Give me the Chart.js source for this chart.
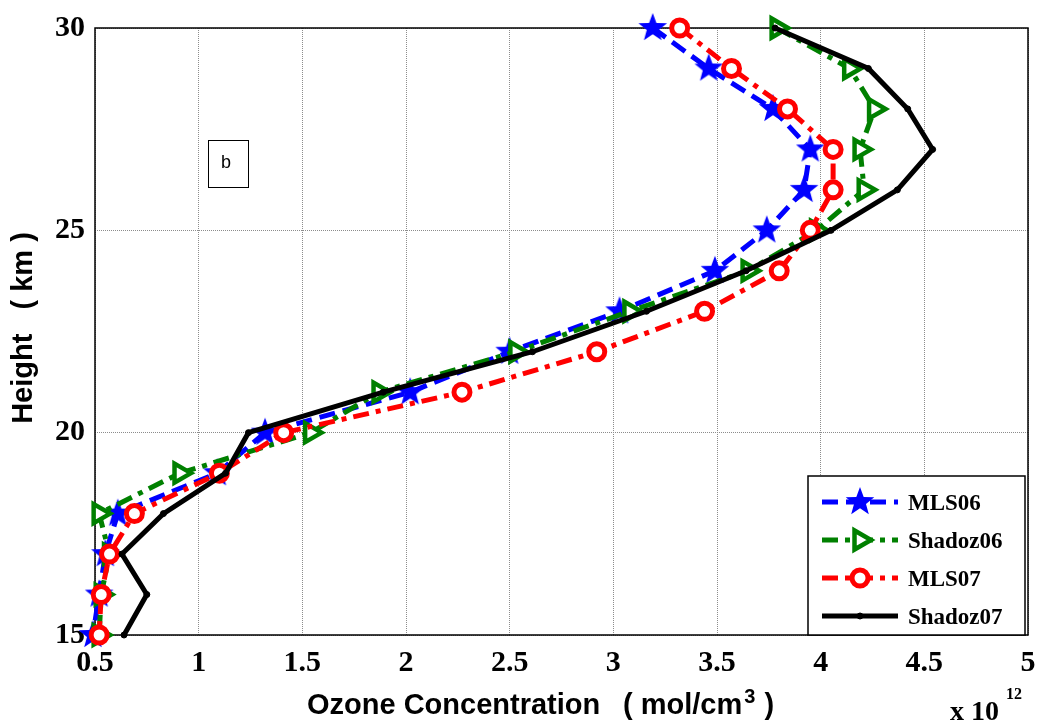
<!DOCTYPE html>
<html lang="en">
<head>
<meta charset="UTF-8">
<title>Ozone Concentration Profiles</title>
<script src="https://cdn.jsdelivr.net/npm/chart.js"></script>
<style>
  body { margin: 0; background: #fff; overflow: hidden; }
  canvas { display: block; }
</style>
</head>
<body>
<canvas id="chart" width="1040" height="727"></canvas>
<script>
// heights (km) and ozone concentration (x 10^12 mol/cm3)
const heights  = [30, 29, 28, 27, 26, 25, 24, 23, 22, 21, 20, 19, 18, 17, 16, 15];
const mls06    = [3.19, 3.46, 3.77, 3.95, 3.92, 3.74, 3.49, 3.03, 2.50, 2.02, 1.32, 1.09, 0.61, 0.55, 0.52, 0.49];
const shadoz06 = [3.79, 4.14, 4.26, 4.19, 4.21, 3.98, 3.65, 3.08, 2.53, 1.87, 1.54, 0.91, 0.52, 0.57, 0.53, 0.52];
const mls07    = [3.32, 3.57, 3.84, 4.06, 4.06, 3.95, 3.80, 3.44, 2.92, 2.27, 1.41, 1.10, 0.69, 0.57, 0.53, 0.52];
const shadoz07 = [3.78, 4.23, 4.42, 4.54, 4.37, 4.05, 3.64, 3.16, 2.61, 1.89, 1.24, 1.13, 0.83, 0.63, 0.75, 0.64];
const xTicks = [0.5, 1, 1.5, 2, 2.5, 3, 3.5, 4, 4.5, 5];
const xTickLabels = ['0.5', '1', '1.5', '2', '2.5', '3', '3.5', '4', '4.5', '5'];
const yTicks = [15, 20, 25, 30];
const yTickLabels = ['15', '20', '25', '30'];

function pts(xs) {
    return xs.map((v, i) => ({ x: v, y: heights[i] }));
}

// filled five point star for the MLS06 markers
function makeStar(r, color) {
    const c = document.createElement('canvas');
    c.width = c.height = r * 2 + 2;
    const g = c.getContext('2d');
    g.fillStyle = color;
    g.beginPath();
    for (let i = 0; i < 10; i++) {
        const rr = i % 2 === 0 ? r : r * 0.42;
        const a = -Math.PI / 2 + i * Math.PI / 5;
        const px = r + 1 + rr * Math.cos(a);
        const py = r + 1 + rr * Math.sin(a);
        if (i === 0) g.moveTo(px, py); else g.lineTo(px, py);
    }
    g.closePath();
    g.fill();
    return c;
}
const starImg = makeStar(15, '#0000ff');

const sans = "'Liberation Sans', Arial, sans-serif";
const serif = "'Liberation Serif', 'Times New Roman', serif";

// draw a marker (used for the legend)
function marker(ctx, ds, x, y) {
    ctx.save();
    ctx.setLineDash([]);
    if (ds.pointStyle instanceof HTMLCanvasElement) {
        ctx.drawImage(ds.pointStyle, x - ds.pointStyle.width / 2, y - ds.pointStyle.height / 2);
    } else if (ds.pointStyle === 'triangle') {
        const r = ds.pointRadius;
        ctx.beginPath();
        for (let i = 0; i < 3; i++) {
            const a = i * 2 * Math.PI / 3;
            const px = x + r * Math.cos(a), py = y + r * Math.sin(a);
            if (i === 0) ctx.moveTo(px, py); else ctx.lineTo(px, py);
        }
        ctx.closePath();
        ctx.fillStyle = ds.pointBackgroundColor;
        ctx.fill();
        ctx.lineWidth = ds.pointBorderWidth;
        ctx.strokeStyle = ds.pointBorderColor;
        ctx.stroke();
    } else {
        ctx.beginPath();
        ctx.arc(x, y, ds.pointRadius, 0, Math.PI * 2);
        ctx.fillStyle = ds.pointBackgroundColor;
        ctx.fill();
        ctx.lineWidth = ds.pointBorderWidth;
        ctx.strokeStyle = ds.pointBorderColor;
        ctx.stroke();
    }
    ctx.restore();
}

const extras = {
    id: 'extras',
    beforeDatasetsDraw(chart) {
        const ctx = chart.ctx;
        const a = chart.chartArea;
        ctx.save();
        // axes box
        ctx.strokeStyle = '#000';
        ctx.lineWidth = 1.5;
        ctx.strokeRect(a.left, a.top, a.right - a.left, a.bottom - a.top);
        ctx.restore();
    },
    afterDraw(chart) {
        const ctx = chart.ctx;
        ctx.save();

        // panel label "b"
        ctx.strokeStyle = '#000';
        ctx.lineWidth = 1;
        ctx.strokeRect(208.5, 140.5, 40, 47);
        ctx.fillStyle = '#000';
        ctx.font = '18px ' + sans;
        ctx.textAlign = 'center';
        ctx.textBaseline = 'middle';
        ctx.fillText('b', 226, 163);

        // axis titles
        ctx.font = 'bold 29px ' + sans;
        ctx.textAlign = 'left';
        ctx.textBaseline = 'alphabetic';
        ctx.fillText('Ozone Concentration', 307, 714);
        const part = '( mol/cm';
        ctx.fillText(part, 623, 714);
        let px = 623 + ctx.measureText(part).width;
        ctx.font = 'bold 20px ' + sans;
        ctx.fillText('3', px + 2, 703);
        px += ctx.measureText('3').width + 3;
        ctx.font = 'bold 29px ' + sans;
        ctx.fillText(' )', px, 714);

        ctx.save();
        ctx.translate(24, 328);
        ctx.rotate(-Math.PI / 2);
        ctx.textAlign = 'center';
        ctx.textBaseline = 'middle';
        ctx.fillText('Height   ( km )', 0, 0);
        ctx.restore();

        // legend
        const lx = 808, ly = 476, lw = 217, lh = 159;
        ctx.fillStyle = '#fff';
        ctx.fillRect(lx, ly, lw, lh);
        ctx.strokeStyle = '#000';
        ctx.lineWidth = 1.5;
        ctx.strokeRect(lx, ly, lw, lh);
        chart.data.datasets.forEach((ds, i) => {
            const y = 502 + i * 38;
            ctx.save();
            ctx.strokeStyle = ds.borderColor;
            ctx.lineWidth = ds.borderWidth;
            ctx.setLineDash(ds.borderDash || []);
            ctx.beginPath();
            ctx.moveTo(822, y);
            ctx.lineTo(898, y);
            ctx.stroke();
            ctx.restore();
            marker(ctx, ds, 860, y);
            ctx.fillStyle = '#000';
            ctx.font = 'bold 23px ' + serif;
            ctx.textAlign = 'left';
            ctx.textBaseline = 'middle';
            ctx.fillText(ds.label, 908, y + 2);
        });

        // exponent
        ctx.fillStyle = '#000';
        ctx.textAlign = 'left';
        ctx.textBaseline = 'alphabetic';
        ctx.font = 'bold 28px ' + serif;
        ctx.fillText('x 10', 950, 720);
        ctx.font = 'bold 16px ' + serif;
        ctx.fillText('12', 1006, 699);
        ctx.restore();
    }
};

const gridOpts = { color: '#8c8c8c', lineWidth: 1, drawTicks: false };

new Chart(document.getElementById('chart'), {
    type: 'line',
    data: {
        datasets: [
            {
                label: 'MLS06',
                data: pts(mls06),
                borderColor: '#0000ff',
                borderWidth: 5,
                borderDash: [16, 8],
                pointStyle: starImg,
                pointRadius: 15,
                pointBackgroundColor: '#0000ff',
                pointBorderColor: '#0000ff',
                clip: false,
                order: 4
            },
            {
                label: 'Shadoz06',
                data: pts(shadoz06),
                borderColor: '#008000',
                borderWidth: 5,
                borderDash: [16, 7, 5, 7],
                pointStyle: 'triangle',
                pointRotation: 90,
                pointRadius: 11,
                pointBorderWidth: 4.5,
                pointBackgroundColor: '#ffffff',
                pointBorderColor: '#008000',
                clip: false,
                order: 3
            },
            {
                label: 'MLS07',
                data: pts(mls07),
                borderColor: '#ff0000',
                borderWidth: 5,
                borderDash: [16, 7, 5, 7],
                pointStyle: 'circle',
                pointRadius: 8,
                pointBorderWidth: 5,
                pointBackgroundColor: '#ffffff',
                pointBorderColor: '#ff0000',
                clip: false,
                order: 2
            },
            {
                label: 'Shadoz07',
                data: pts(shadoz07),
                borderColor: '#000000',
                borderWidth: 5,
                pointStyle: 'circle',
                pointRadius: 3,
                pointBorderWidth: 1,
                pointBackgroundColor: '#000000',
                pointBorderColor: '#000000',
                clip: false,
                order: 1
            }
        ]
    },
    options: {
        responsive: false,
        animation: false,
        layout: { autoPadding: false, padding: { top: 28, right: 12, left: 0, bottom: 0 } },
        elements: { line: { tension: 0, fill: false } },
        plugins: {
            legend: { display: false },
            tooltip: { enabled: false }
        },
        scales: {
            x: {
                type: 'linear',
                min: 0.5,
                max: 5,
                afterFit: s => { s.height = 92; s.paddingLeft = 0; s.paddingRight = 0; },
                afterBuildTicks: s => { s.ticks = xTicks.map(v => ({ value: v })); },
                grid: gridOpts,
                border: { display: false, dash: [1, 1] },
                ticks: {
                    padding: 10,
                    color: '#000',
                    maxRotation: 0,
                    font: { family: serif, size: 30, weight: 'bold' },
                    callback: (v, i) => xTickLabels[i]
                }
            },
            y: {
                type: 'linear',
                min: 15,
                max: 30,
                afterFit: s => { s.width = 95; s.paddingTop = 0; s.paddingBottom = 0; },
                afterBuildTicks: s => { s.ticks = yTicks.map(v => ({ value: v })); },
                grid: gridOpts,
                border: { display: false, dash: [1, 1] },
                ticks: {
                    padding: 10,
                    color: '#000',
                    font: { family: serif, size: 30, weight: 'bold' },
                    callback: (v, i) => yTickLabels[i]
                }
            }
        }
    },
    plugins: [extras]
});
</script>
</body>
</html>
